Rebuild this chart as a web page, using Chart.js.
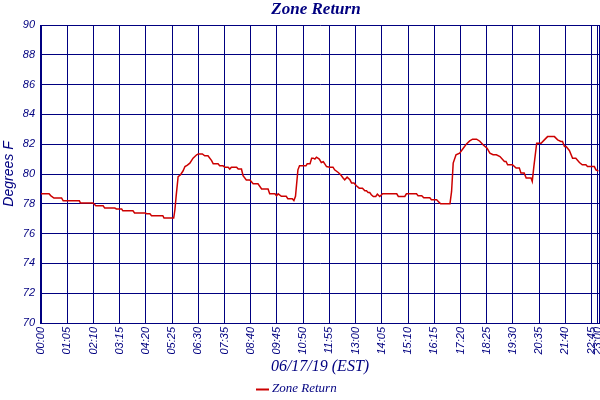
<!DOCTYPE html>
<html>
<head>
<meta charset="utf-8">
<script src="https://cdn.jsdelivr.net/npm/chart.js@4/dist/chart.umd.min.js"></script>
<style>
  html, body { margin: 0; padding: 0; background: #fff; }
  #wrap { width: 600px; height: 400px; }
</style>
</head>
<body>
<div id="wrap"><canvas id="zoneChart" width="600" height="400"></canvas></div>
<script>
// readings
const readingTimes = [
  '00:00','00:20','00:24','00:32','00:51','00:55','01:35','01:38','02:09','02:16',
  '02:34','02:38','03:03','03:07','03:20','03:23','03:48','03:52','04:18','04:22',
  '04:30','04:34','05:02','05:05','05:29','05:32','05:35','05:40','05:46','05:52',
  '05:57','06:03','06:09','06:17','06:26','06:30','06:40','06:46','06:54','07:03',
  '07:07','07:19','07:23','07:31','07:36','07:44','07:48','07:52','08:05','08:09',
  '08:17','08:21','08:29','08:38','08:46','08:58','09:07','09:23','09:27','09:40',
  '09:44','09:48','09:56','10:08','10:12','10:23','10:27','10:31','10:37','10:41',
  '10:57','11:00','11:07','11:11','11:15','11:19','11:23','11:30','11:35','11:40',
  '11:44','11:48','11:56','12:04','12:08','12:17','12:23','12:29','12:33','12:39',
  '12:46','12:50','12:56','13:02','13:09','13:17','13:23','13:27','13:31','13:35',
  '13:39','13:44','13:50','13:54','14:00','14:07','14:42','14:46','15:02','15:06',
  '15:31','15:35','15:44','15:49','16:04','16:08','16:21','16:25','16:31','16:54',
  '16:58','17:02','17:09','17:18','17:27','17:35','17:43','17:50','18:00','18:08',
  '18:16','18:26','18:33','18:41','18:49','18:58','19:09','19:13','19:17','19:29',
  '19:38','19:46','19:50','19:58','20:03','20:15','20:18','20:22','20:29','20:40',
  '20:48','20:56','21:13','21:21','21:29','21:33','21:38','21:42','21:50','21:58',
  '22:06','22:15','22:22','22:31','22:35','22:52','22:56','23:02'
];

const zoneReturn = [
  78.67,78.67,78.55,78.39,78.39,78.20,78.20,78.05,78.05,77.87,
  77.87,77.71,77.71,77.65,77.65,77.53,77.53,77.38,77.38,77.33,
  77.33,77.20,77.20,77.04,77.04,77.60,78.50,79.83,79.95,80.20,
  80.50,80.60,80.73,81.06,81.29,81.35,81.35,81.22,81.22,80.90,
  80.68,80.68,80.55,80.55,80.46,80.46,80.33,80.46,80.46,80.33,
  80.33,79.88,79.60,79.60,79.34,79.34,78.99,78.99,78.67,78.67,
  78.54,78.67,78.50,78.50,78.34,78.34,78.22,78.50,80.28,80.55,
  80.55,80.68,80.68,81.06,81.06,81.00,81.13,81.00,80.77,80.82,
  80.66,80.50,80.46,80.46,80.28,80.10,79.95,79.73,79.61,79.79,
  79.61,79.39,79.39,79.21,79.05,79.05,78.87,78.87,78.76,78.76,
  78.61,78.49,78.49,78.65,78.49,78.67,78.67,78.49,78.49,78.67,
  78.67,78.54,78.54,78.40,78.40,78.27,78.27,78.16,78.00,78.00,
  78.83,80.73,81.29,81.40,81.73,82.02,82.22,82.34,82.34,82.20,
  81.96,81.73,81.40,81.29,81.29,81.17,80.84,80.84,80.62,80.62,
  80.40,80.40,80.06,80.06,79.73,79.73,79.50,80.50,82.07,82.07,
  82.29,82.51,82.51,82.29,82.18,82.18,81.85,81.85,81.58,81.06,
  81.06,80.77,80.62,80.62,80.50,80.50,80.28,80.20
];

const xTickLabels = [
  '00:00','01:05','02:10','03:15','04:20','05:25','06:30','07:35','08:40','09:45',
  '10:50','11:55','13:00','14:05','15:10','16:15','17:20','18:25','19:30','20:35',
  '21:40','22:45','23:00'
];
const yTicks = [70, 72, 74, 76, 78, 80, 82, 84, 86, 88, 90];

const chartTitle = 'Zone Return';
const xTitle = '06/17/19 (EST)';
const yTitle = 'Degrees F';

const navy = '#000080';
const lineRed = '#cc0000';

function toMinutes(t) {
  const p = t.split(':');
  return parseInt(p[0], 10) * 60 + parseInt(p[1], 10);
}
function toLabel(m) {
  const h = Math.floor(m / 60), mm = m % 60;
  return String(h).padStart(2, '0') + ':' + String(mm).padStart(2, '0');
}

const points = readingTimes.map((t, i) => ({ x: toMinutes(t), y: zoneReturn[i] }));
const xTickValues = xTickLabels.map(toMinutes);

// title, legend and the right frame edge
const decorations = {
  id: 'decorations',
  afterDraw(chart) {
    const ctx = chart.ctx;
    const a = chart.chartArea;
    ctx.save();
    ctx.strokeStyle = navy;
    ctx.lineWidth = 1;
    ctx.beginPath();
    ctx.moveTo(a.right - 0.5, a.top);
    ctx.lineTo(a.right - 0.5, a.bottom);
    ctx.stroke();

    ctx.fillStyle = navy;
    ctx.textAlign = 'center';
    ctx.textBaseline = 'middle';
    ctx.font = 'italic bold 17px "Liberation Serif"';
    ctx.fillText(chartTitle, 316, 10);

    // legend
    ctx.strokeStyle = lineRed;
    ctx.lineWidth = 2;
    ctx.beginPath();
    ctx.moveTo(256, 389.5);
    ctx.lineTo(269, 389.5);
    ctx.stroke();
    ctx.fillStyle = navy;
    ctx.textAlign = 'left';
    ctx.font = 'italic 13px "Liberation Serif"';
    ctx.fillText(chart.data.datasets[0].label, 272, 389);
    ctx.restore();
  }
};

const ctx = document.getElementById('zoneChart').getContext('2d');
new Chart(ctx, {
  type: 'line',
  data: {
    datasets: [{
      label: 'Zone Return',
      data: points,
      borderColor: lineRed,
      borderWidth: 1.5,
      pointRadius: 0,
      tension: 0,
      fill: false
    }]
  },
  options: {
    responsive: false,
    animation: false,
    layout: { padding: { top: 25, left: 0, right: 0, bottom: 0 } },
    plugins: {
      legend: { display: false },
      title: { display: false },
      tooltip: { enabled: false }
    },
    scales: {
      x: {
        type: 'linear',
        min: -2.5,
        max: 1386,
        afterBuildTicks: scale => { scale.ticks = xTickValues.map(v => ({ value: v })); },
        afterFit: scale => {
          scale.height = 77;
          scale.paddingLeft = 0;
          scale.paddingRight = 0;
        },
        grid: { color: navy, lineWidth: 1, drawTicks: false },
        border: { display: true, color: navy, width: 1 },
        ticks: {
          autoSkip: false,
          maxRotation: 90,
          minRotation: 90,
          padding: 4,
          color: navy,
          font: { family: '"Liberation Sans", Arial, sans-serif', size: 11, style: 'italic' },
          callback: v => toLabel(v)
        },
        title: {
          display: true,
          text: xTitle,
          color: navy,
          font: { family: '"Liberation Serif", serif', size: 16, style: 'italic' },
          padding: { top: 0, bottom: 24 }
        }
      },
      y: {
        min: 70,
        max: 90,
        afterBuildTicks: scale => { scale.ticks = yTicks.map(v => ({ value: v })); },
        afterFit: scale => {
          scale.width = 40;
          scale.paddingTop = 0;
          scale.paddingBottom = 0;
        },
        grid: { color: navy, lineWidth: 1, drawTicks: false },
        border: { display: true, color: navy, width: 1 },
        ticks: {
          padding: 5,
          color: navy,
          font: { family: '"Liberation Sans", Arial, sans-serif', size: 11, style: 'italic' }
        },
        title: {
          display: true,
          text: yTitle,
          color: navy,
          font: { family: '"Liberation Sans", Arial, sans-serif', size: 14, style: 'italic' },
          padding: { top: 1, bottom: 0 }
        }
      }
    }
  },
  plugins: [decorations]
});
</script>
</body>
</html>
